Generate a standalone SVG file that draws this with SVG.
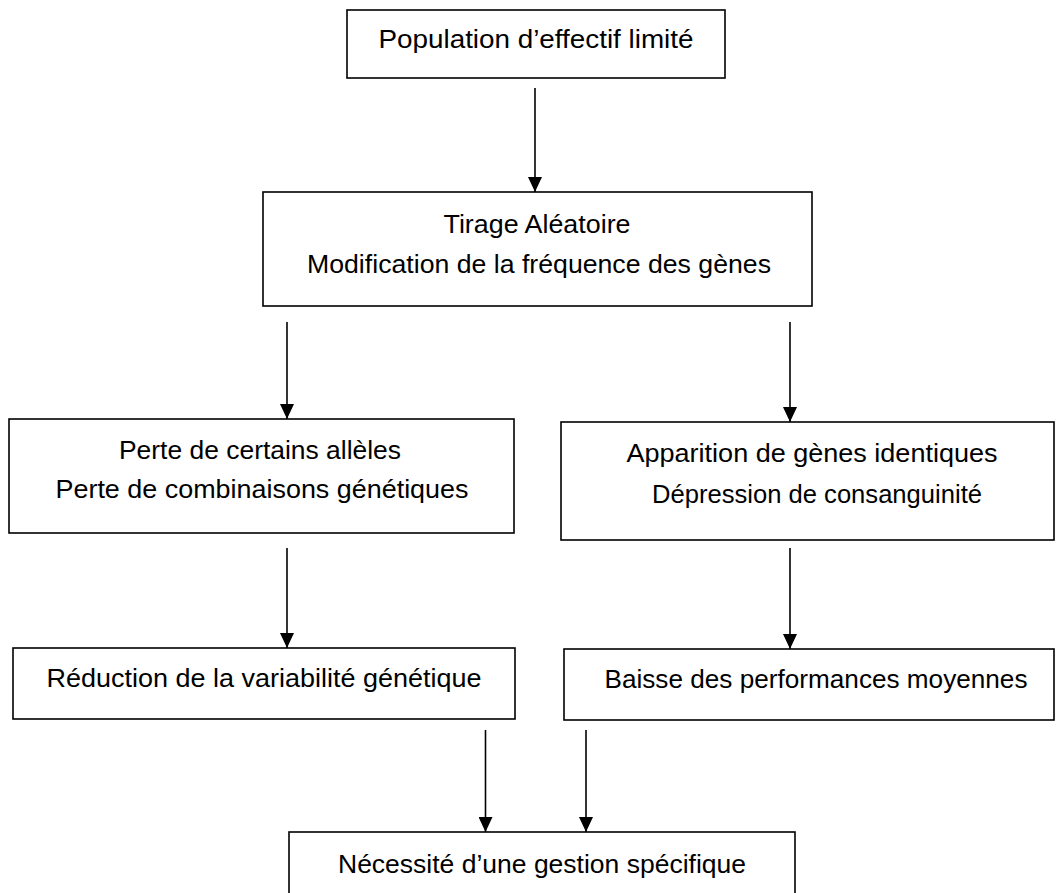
<svg xmlns="http://www.w3.org/2000/svg" width="1061" height="893" viewBox="0 0 1061 893">
<defs>
<marker id="ah" viewBox="0 0 15 14" refX="15" refY="7" markerWidth="15" markerHeight="14" markerUnits="userSpaceOnUse" orient="auto">
<path d="M0,0 L15,7 L0,14 Z" fill="#000"/>
</marker>
<style>
.box{fill:#fff;stroke:#000;stroke-width:1.6}
.t{font-family:"Liberation Sans",Arial,sans-serif;font-size:25px;fill:#000;text-anchor:middle}
.c{stroke:#000;stroke-width:1.6;fill:none}
</style>
</defs>
<rect width="1061" height="893" fill="#fff"/>
<g id="n1">
<rect class="box" x="347" y="10" width="378" height="68"/>
<text class="t" x="536" y="48" textLength="315" lengthAdjust="spacingAndGlyphs">Population d’effectif limité</text>
</g>
<g id="n2">
<rect class="box" x="263" y="192" width="549" height="114"/>
<text class="t" x="537" y="233" textLength="187" lengthAdjust="spacingAndGlyphs">Tirage Aléatoire</text>
<text class="t" x="539" y="273" textLength="464" lengthAdjust="spacingAndGlyphs">Modification de la fréquence des gènes</text>
</g>
<g id="n3">
<rect class="box" x="9" y="419" width="505" height="114"/>
<text class="t" x="260" y="459" textLength="282" lengthAdjust="spacingAndGlyphs">Perte de certains allèles</text>
<text class="t" x="262" y="498" textLength="413" lengthAdjust="spacingAndGlyphs">Perte de combinaisons génétiques</text>
</g>
<g id="n4">
<rect class="box" x="561" y="422" width="493" height="118"/>
<text class="t" x="812" y="462" textLength="371" lengthAdjust="spacingAndGlyphs">Apparition de gènes identiques</text>
<text class="t" x="817" y="503" textLength="330" lengthAdjust="spacingAndGlyphs">Dépression de consanguinité</text>
</g>
<g id="n5">
<rect class="box" x="13" y="648" width="502" height="71"/>
<text class="t" x="264" y="687" textLength="435" lengthAdjust="spacingAndGlyphs">Réduction de la variabilité génétique</text>
</g>
<g id="n6">
<rect class="box" x="564" y="649" width="490" height="71"/>
<text class="t" x="816" y="688" textLength="423" lengthAdjust="spacingAndGlyphs">Baisse des performances moyennes</text>
</g>
<g id="n7">
<rect class="box" x="289" y="832" width="506" height="80"/>
<text class="t" x="542" y="873" textLength="408" lengthAdjust="spacingAndGlyphs">Nécessité d’une gestion spécifique</text>
</g>
<g id="connectors">
<line class="c" x1="535" y1="88" x2="535" y2="192" marker-end="url(#ah)"/>
<line class="c" x1="287" y1="322" x2="287" y2="419" marker-end="url(#ah)"/>
<line class="c" x1="790" y1="322" x2="790" y2="422" marker-end="url(#ah)"/>
<line class="c" x1="287" y1="548" x2="287" y2="648" marker-end="url(#ah)"/>
<line class="c" x1="790" y1="548" x2="790" y2="649" marker-end="url(#ah)"/>
<line class="c" x1="485.5" y1="730" x2="485.5" y2="832" marker-end="url(#ah)"/>
<line class="c" x1="586" y1="730" x2="586" y2="832" marker-end="url(#ah)"/>
</g>
</svg>
